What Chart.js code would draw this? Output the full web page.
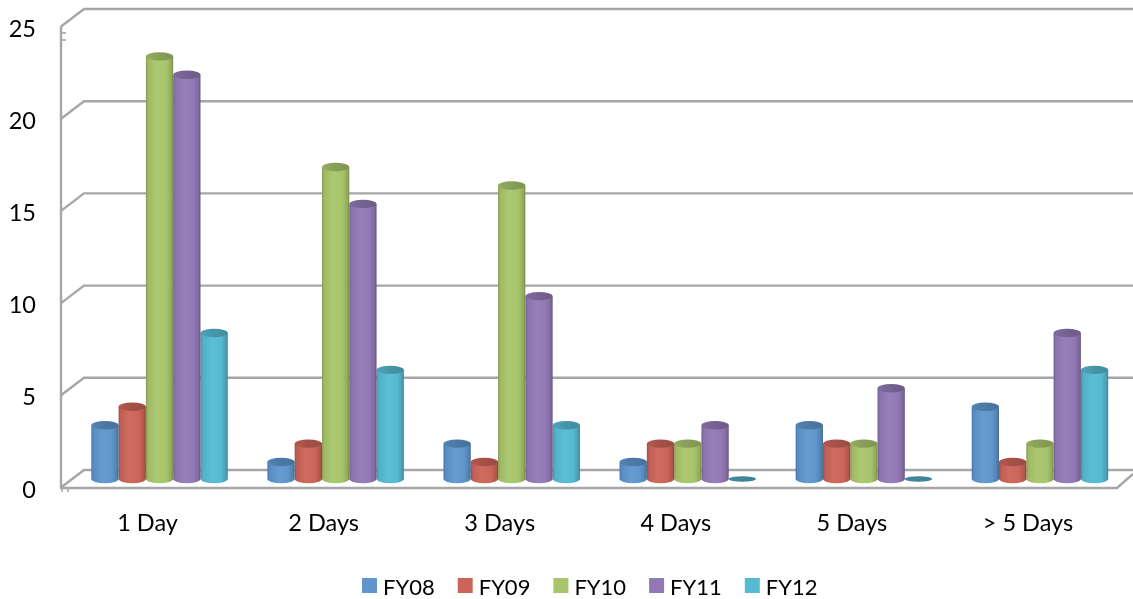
<!DOCTYPE html>
<html>
<head>
<meta charset="utf-8">
<style>html,body{margin:0;padding:0;background:#fff}canvas{display:block}</style>
<script src="https://cdn.jsdelivr.net/npm/chart.js@4/dist/chart.umd.min.js"></script>
</head>
<body>
<canvas id="c" width="1133" height="599"></canvas>
<script>
const categories = ['1 Day', '2 Days', '3 Days', '4 Days', '5 Days', '> 5 Days'];
const FY08 = [3, 1, 2, 1, 3, 4];
const FY09 = [4, 2, 1, 2, 2, 1];
const FY10 = [23, 17, 16, 2, 2, 2];
const FY11 = [22, 15, 10, 3, 5, 8];
const FY12 = [8, 6, 3, 0, 0, 6];
const seriesNames = ['FY08', 'FY09', 'FY10', 'FY11', 'FY12'];
const seriesValues = [FY08, FY09, FY10, FY11, FY12];

const colors = ['#5e96cd', '#cd6459', '#a9c56b', '#9279b5', '#56bad3'];
const FAMILY = 'Lato, "Open Sans", sans-serif';
const GRID = '#a6a6a6';

function shade(hex, f) {
  const n = parseInt(hex.slice(1), 16);
  const c = [n >> 16 & 255, n >> 8 & 255, n & 255].map(v => Math.round(f < 1 ? v * f : v + (255 - v) * (f - 1)));
  return `rgb(${c[0]},${c[1]},${c[2]})`;
}

const cylinders = {
  id: 'cylinders',
  beforeDatasetsDraw(chart) {
    const ctx = chart.ctx, y = chart.scales.y;
    const top = y.getPixelForValue(25);
    ctx.save();
    ctx.strokeStyle = GRID;
    ctx.lineWidth = 2.4;
    // receding wall and floor, one line per axis tick
    y.ticks.forEach(t => {
      const p = y.getPixelForValue(t.value);
      ctx.beginPath();
      ctx.moveTo(61, p + 8.5);
      ctx.lineTo(84, p - 9);
      ctx.lineTo(1133, p - 9);
      ctx.stroke();
    });
    const base = y.getPixelForValue(0);
    ctx.beginPath();
    ctx.moveTo(61, top + 8.5);
    ctx.lineTo(61, base + 9);
    ctx.lineTo(1117, base + 9);
    ctx.lineTo(1133, base - 5);
    ctx.stroke();
    ctx.lineWidth = 1.6;
    [[61, top + 15, 66, top + 15], [61, top + 22, 66, top + 22],
     [62, base + 9, 62, base + 13], [68, base + 9, 68, base + 13]].forEach(s => {
      ctx.beginPath(); ctx.moveTo(s[0], s[1]); ctx.lineTo(s[2], s[3]); ctx.stroke();
    });
    ctx.restore();
  },
  beforeDatasetDraw(chart, args) {
    const ctx = chart.ctx, col = colors[args.index];
    const meta = chart.getDatasetMeta(args.index);
    const values = seriesValues[args.index];
    meta.data.forEach((bar, i) => {
      const rx = bar.width / 2, l = bar.x - rx, r = bar.x + rx;
      const ry = 4.2;
      const topY = bar.y + 1.5;
      ctx.save();
      if (values[i] === 0) {
        ctx.fillStyle = shade(col, 0.72);
        ctx.beginPath();
        ctx.ellipse(bar.x, bar.base, rx, 2.8, 0, 0, Math.PI * 2);
        ctx.fill();
        ctx.restore();
        return;
      }
      const g = ctx.createLinearGradient(l, 0, r, 0);
      g.addColorStop(0, shade(col, 0.78));
      g.addColorStop(0.08, shade(col, 0.94));
      g.addColorStop(0.4, shade(col, 1.05));
      g.addColorStop(0.75, col);
      g.addColorStop(0.93, shade(col, 0.86));
      g.addColorStop(1, shade(col, 0.7));
      ctx.fillStyle = g;
      ctx.beginPath();
      ctx.moveTo(l, topY);
      ctx.lineTo(l, bar.base);
      ctx.ellipse(bar.x, bar.base, rx, ry, 0, Math.PI, 0, true);
      ctx.lineTo(r, topY);
      ctx.closePath();
      ctx.fill();
      const g2 = ctx.createLinearGradient(l, 0, r, 0);
      g2.addColorStop(0, shade(col, 0.88));
      g2.addColorStop(0.5, shade(col, 0.8));
      g2.addColorStop(1, shade(col, 0.76));
      ctx.fillStyle = g2;
      ctx.beginPath();
      ctx.ellipse(bar.x, topY, rx, ry, 0, 0, Math.PI * 2);
      ctx.fill();
      ctx.restore();
    });
    return false;
  },
  afterDraw(chart) {
    const ctx = chart.ctx;
    ctx.save();
    ctx.font = '22px ' + FAMILY;
    ctx.textBaseline = 'middle';
    const step = 95.7;
    chart.data.datasets.forEach((d, i) => {
      const x = 362 + i * step;
      ctx.fillStyle = d.backgroundColor;
      ctx.fillRect(x, 578, 15, 15);
      ctx.fillStyle = '#000';
      ctx.fillText(d.label, x + 21, 588);
    });
    ctx.restore();
  }
};

new Chart(document.getElementById('c'), {
  type: 'bar',
  data: {
    labels: categories,
    datasets: seriesNames.map((n, i) => ({
      label: n,
      data: seriesValues[i],
      backgroundColor: colors[i],
      barPercentage: 1,
      categoryPercentage: 0.775
    }))
  },
  plugins: [cylinders],
  options: {
    responsive: false,
    animation: false,
    layout: { padding: { top: 18, right: 5, left: 0, bottom: 0 } },
    plugins: { legend: { display: false }, tooltip: { enabled: false } },
    scales: {
      x: {
        grid: { display: false, drawTicks: false },
        border: { display: false },
        afterFit(s) { s.height = 120; s.paddingLeft = 0; s.paddingRight = 0; },
        ticks: { color: '#000', font: { family: FAMILY, size: 23.5 }, padding: 30, labelOffset: -12, maxRotation: 0, autoSkip: false }
      },
      y: {
        min: 0,
        max: 25,
        grid: { display: false, drawTicks: false },
        border: { display: false },
        afterFit(s) { s.width = 71.5; s.paddingTop = 0; s.paddingBottom = 0; },
        ticks: { color: '#000', font: { family: FAMILY, size: 23.5 }, stepSize: 5, padding: 35.5, labelOffset: 11 }
      }
    }
  }
});
</script>
</body>
</html>
